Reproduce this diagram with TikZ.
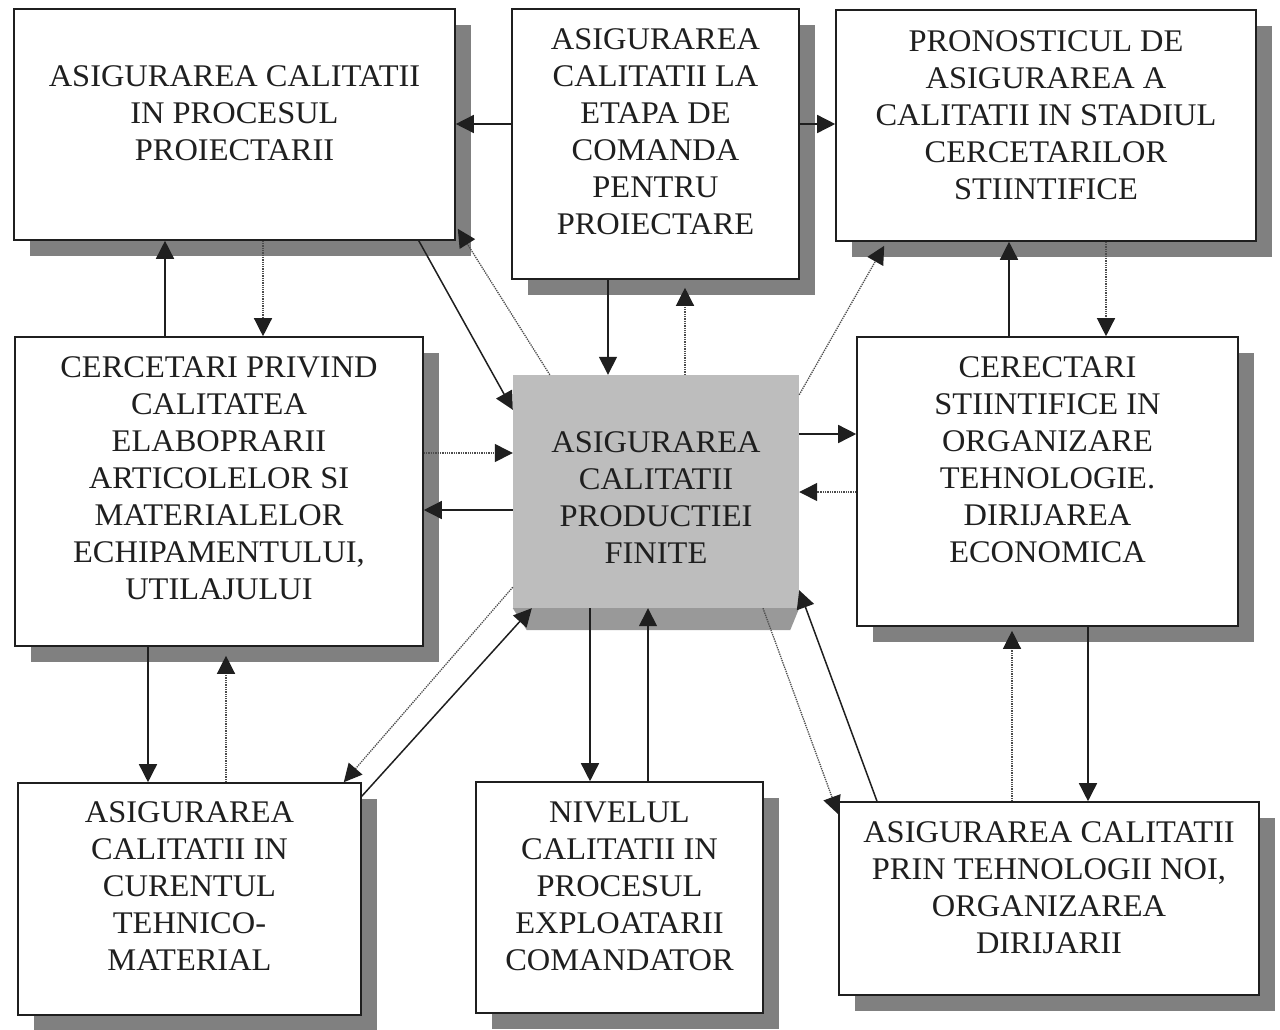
\documentclass[tikz,border=0pt]{standalone}
\usepackage{fontspec}
\setmainfont{Liberation Serif}[FakeStretch=1.03]
\usetikzlibrary{arrows.meta,shadows}
\definecolor{shadowgray}{gray}{0.50}
\definecolor{centergray}{gray}{0.74}
\definecolor{bandgray}{gray}{0.60}
\definecolor{inkgray}{gray}{0.12}
\begin{document}
\begin{tikzpicture}[x=1pt,y=-1pt,
  box/.style={draw=inkgray, line width=1.6pt, fill=white, inner sep=0pt,
    general shadow={fill=shadowgray, shadow xshift=16pt, shadow yshift=-16pt}},
  lbl/.style={align=center, inner sep=0pt, text=inkgray, font=\fontsize{31.5}{37}\selectfont},
  arr/.style={line width=1.5pt, draw=inkgray, -{Triangle[length=18pt,width=18pt,color=inkgray]}},
  darr/.style={line width=1.3pt, densely dotted, draw=black!70, -{Triangle[length=18pt,width=18pt,color=inkgray]}}]
\useasboundingbox (0,0) rectangle (1280,1029);
\fill[white] (0,0) rectangle (1280,1029);

% boxes
\node[box, minimum width=441pt, minimum height=231pt] (A) at (234.5,124.5) {};
\node[box, minimum width=287pt, minimum height=270pt] (B) at (655.5,144) {};
\node[box, minimum width=420pt, minimum height=231pt] (C) at (1046,125.5) {};
\node[box, minimum width=408pt, minimum height=309pt] (D) at (219,491.5) {};
\node[box, minimum width=381pt, minimum height=289pt] (F) at (1047.5,481.5) {};
\node[box, minimum width=343pt, minimum height=232pt] (G) at (189.5,899) {};
\node[box, minimum width=287pt, minimum height=231pt] (H) at (619.5,897.5) {};
\node[box, minimum width=420pt, minimum height=193pt] (I) at (1049,898.5) {};
% centre box
\node[fill=centergray, draw=none, inner sep=0pt, minimum width=286pt, minimum height=233pt] (E) at (656,491.5) {};
\fill[bandgray] (E.south west) -- (E.south east) -- ([xshift=-9pt,yshift=-22pt]E.south east) -- ([xshift=14pt,yshift=-22pt]E.south west) -- cycle;

% labels
\node[lbl] (tA) at (234.5,113) {ASIGURAREA CALITATII\\IN PROCESUL\\PROIECTARII};
\node[lbl] (tB) at (655.5,131.5) {ASIGURAREA\\CALITATII LA\\ETAPA DE\\COMANDA\\PENTRU\\PROIECTARE};
\node[lbl] (tC) at (1046,115) {PRONOSTICUL DE\\ASIGURAREA A\\CALITATII IN STADIUL\\CERCETARILOR\\STIINTIFICE};
\node[lbl] (tD) at (219,478) {CERCETARI PRIVIND\\CALITATEA\\ELABOPRARII\\ARTICOLELOR SI\\MATERIALELOR\\ECHIPAMENTULUI,\\UTILAJULUI};
\node[lbl] (tE) at (656,498) {ASIGURAREA\\CALITATII\\PRODUCTIEI\\FINITE};
\node[lbl] (tF) at (1047.5,460) {CERECTARI\\STIINTIFICE IN\\ORGANIZARE\\TEHNOLOGIE.\\DIRIJAREA\\ECONOMICA};
\node[lbl] (tG) at (189.5,886) {ASIGURAREA\\CALITATII IN\\CURENTUL\\TEHNICO-\\MATERIAL};
\node[lbl] (tH) at (619.5,886) {NIVELUL\\CALITATII IN\\PROCESUL\\EXPLOATARII\\COMANDATOR};
\node[lbl] (tI) at (1049,888) {ASIGURAREA CALITATII\\PRIN TEHNOLOGII NOI,\\ORGANIZAREA\\DIRIJARII};

% connectors, top row
\draw[arr] (B.west |- 0,124) -- (A.east |- 0,124);
\draw[arr] (B.east |- 0,124) -- (C.west |- 0,124);
% A <-> D
\draw[arr] (D.north -| 165,0) -- (A.south -| 165,0);
\draw[darr] (A.south -| 263,0) -- (D.north -| 263,0);
% A <-> E
\draw[arr] ([xshift=-37pt]A.south east) -- ([yshift=-35pt]E.north west);
\draw[darr] ([xshift=37pt]E.north west) -- ([xshift=2pt,yshift=12pt]A.south east);
% B <-> E
\draw[arr] (B.south -| 608,0) -- (E.north -| 608,0);
\draw[darr] (E.north -| 685,0) -- ([yshift=-8pt]B.south -| 685,0);
% E -> C
\draw[darr] ([yshift=-20pt]E.north east) -- ([xshift=49pt,yshift=-4pt]C.south west);
% C <-> F
\draw[arr] (F.north -| 1009,0) -- (C.south -| 1009,0);
\draw[darr] (C.south -| 1106,0) -- (F.north -| 1106,0);
% D <-> E
\draw[darr] (D.east |- 0,453) -- (E.west |- 0,453);
\draw[arr] (E.west |- 0,510) -- (D.east |- 0,510);
% E <-> F
\draw[arr] (E.east |- 0,434) -- (F.west |- 0,434);
\draw[darr] (F.west |- 0,492) -- (E.east |- 0,492);
% D <-> G
\draw[arr] (D.south -| 148,0) -- (G.north -| 148,0);
\draw[darr] (G.north -| 226,0) -- ([yshift=-9pt]D.south -| 226,0);
% E <-> G
\draw[darr] ([yshift=21pt]E.south west) -- ([xshift=-18pt]G.north east);
\draw[arr] ([yshift=-14pt]G.north east) -- ([xshift=19pt]E.south west);
% E <-> H
\draw[arr] (E.south -| 590,0) -- (H.north -| 590,0);
\draw[arr] (H.north -| 648,0) -- (E.south -| 648,0);
% E <-> I
\draw[darr] (E.south -| 763,0) -- ([yshift=-13pt]I.north west);
\draw[arr] (I.north -| 877,0) -- ([yshift=18pt]E.south east);
% F <-> I
\draw[darr] (I.north -| 1012,0) -- ([yshift=-4pt]F.south -| 1012,0);
\draw[arr] (F.south -| 1088,0) -- (I.north -| 1088,0);
\end{tikzpicture}
\end{document}
